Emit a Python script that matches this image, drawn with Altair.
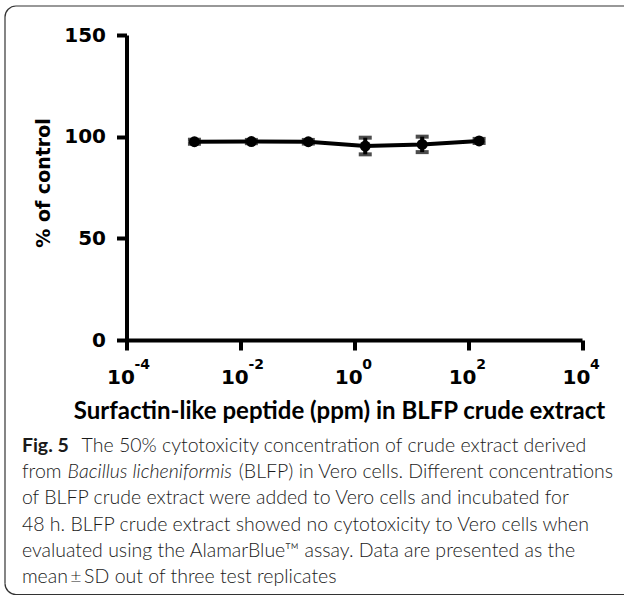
import math
import altair as alt
import pandas as pd

# ---- data ----
conc = [0.00156, 0.0156, 0.156, 1.56, 15.6, 156]
pct = [97.5, 97.6, 97.5, 95.4, 96.2, 97.9]
sd = [1.0, 0.8, 0.9, 4.1, 3.8, 1.0]

x_ticks = [1e-4, 1e-2, 1, 1e2, 1e4]
x_exponents = ["-4", "-2", "0", "2", "4"]
y_ticks = [0, 50, 100, 150]

y_title = "% of control"
x_title = "Surfactin-like peptide (ppm) in BLFP crude extract"

caption_lines = [
    [("Fig. 5", "bold"), ("The 50% cytotoxicity concentration of crude extract derived", "normal")],
    [("from", "normal"), ("Bacillus licheniformis", "italic"), ("(BLFP) in Vero cells. Different concentrations", "normal")],
    [("of BLFP crude extract were added to Vero cells and incubated for", "normal")],
    [("48 h. BLFP crude extract showed no cytotoxicity to Vero cells when", "normal")],
    [("evaluated using the AlamarBlue\u2122 assay. Data are presented as the", "normal")],
    [("mean\u2009\u00b1\u2009SD out of three test replicates", "normal")],
]

# ---- layout constants (pixels) ----
TOTAL_W, TOTAL_H = 624, 596
L, T = 126.5, 35.0
W, H = 455.5, 305.0
PAD = {"left": L, "top": T, "right": TOTAL_W - L - W, "bottom": TOTAL_H - T - H}

df = pd.DataFrame({"conc": conc, "pct": pct, "lo": [p - s for p, s in zip(pct, sd)],
                   "hi": [p + s for p, s in zip(pct, sd)]})

xscale = alt.Scale(type="log", domain=[1e-4, 1e4], nice=False)
yscale = alt.Scale(domain=[0, 150], nice=False)

AX_FONT = "DejaVu Sans"

xaxis = alt.Axis(values=x_ticks, labelExpr="'10'", labelFont=AX_FONT, labelFontWeight="bold",
                 labelFontSize=20, labelColor="black", labelBaseline="alphabetic",
                 labelPadding=33, labelOffset=-6, labelFlush=False, labelOverlap=False,
                 tickSize=10, tickWidth=4, tickColor="black", domainWidth=4, domainColor="black",
                 grid=False, title=x_title, titleFont="Lato", titleFontWeight="bold",
                 titleFontSize=24, titleColor="black", titleBaseline="alphabetic",
                 titleX=339 - L, titleY=418 - (T + H), titleAlign="center")
yaxis = alt.Axis(values=y_ticks, labelFont=AX_FONT, labelFontWeight="bold", labelFontSize=20,
                 labelColor="black", labelPadding=11, tickSize=10, tickWidth=4, tickColor="black",
                 domainWidth=4, domainColor="black", grid=False, title=y_title,
                 titleFont=AX_FONT, titleFontWeight="bold", titleFontSize=19, titleColor="black",
                 titleAngle=270, titleAlign="center", titleBaseline="middle",
                 titleX=43 - L, titleY=182.5 - T)

base = alt.Chart(df)
line = base.mark_line(color="black", strokeWidth=4).encode(
    x=alt.X("conc:Q", scale=xscale, axis=xaxis), y=alt.Y("pct:Q", scale=yscale, axis=yaxis))
rule = base.mark_rule(color="black", strokeWidth=4).encode(
    x=alt.X("conc:Q", scale=xscale), y=alt.Y("lo:Q", scale=yscale), y2="hi:Q")
cap_lo = base.mark_tick(color="black", size=13, thickness=4, orient="horizontal").encode(
    x=alt.X("conc:Q", scale=xscale), y=alt.Y("lo:Q", scale=yscale))
cap_hi = base.mark_tick(color="black", size=13, thickness=4, orient="horizontal").encode(
    x=alt.X("conc:Q", scale=xscale), y=alt.Y("hi:Q", scale=yscale))
pts = base.mark_circle(color="black", opacity=1, size=120).encode(
    x=alt.X("conc:Q", scale=xscale), y=alt.Y("pct:Q", scale=yscale))

exp_df = pd.DataFrame({"v": x_ticks, "e": x_exponents})
exps = alt.Chart(exp_df).mark_text(font=AX_FONT, fontWeight="bold", fontSize=14, color="black",
                                   align="left", baseline="alphabetic", dx=8).encode(
    x=alt.X("v:Q", scale=xscale), y=alt.value(369 - T), text="e:N")

# ---- frame (rounded box around figure + caption) ----
FC, FW, R = "#333333", 1.2, 11
FL, FT, FR, FB = 5, 6, 630, TOTAL_H - 1.5
one = pd.DataFrame({"a": [0]})
frame_layers = [
    alt.Chart(one).mark_rule(color=FC, strokeWidth=FW).encode(
        x=alt.value(FL - L), y=alt.value(FT + R - T), y2=alt.value(FB - R - T)),
    alt.Chart(one).mark_rule(color=FC, strokeWidth=FW).encode(
        x=alt.value(FL + R - L), x2=alt.value(FR - L), y=alt.value(FT - T)),
    alt.Chart(one).mark_rule(color=FC, strokeWidth=FW).encode(
        x=alt.value(FL + R - L), x2=alt.value(FR - L), y=alt.value(FB - T)),
]
corners = [  # (center x, center y, start angle, end angle)
    (FL + R, FT + R, 1.5 * math.pi, 2 * math.pi),
    (FL + R, FB - R, math.pi, 1.5 * math.pi),
]
for cx, cy, a0, a1 in corners:
    frame_layers.append(
        alt.Chart(one).mark_arc(fill=FC, stroke=None).encode(
            x=alt.value(cx - L), y=alt.value(cy - T), theta=alt.value(a0), theta2=alt.value(a1),
            radius=alt.value(R + FW / 2), radius2=alt.value(R - FW / 2)))

# caption
CAP_FONT = "Lato"
CAP_SIZE = 19.5
seg_x = [[21.9, 81.6], [21.9, 67.6, 238.8], [21.9], [21.9], [21.9], [21.9]]
base_y = [451.7, 478.0, 504.3, 530.6, 556.9, 583.2]
cap_layers = []
for li, segs in enumerate(caption_lines):
    for si, (s, style) in enumerate(segs):
        kw = dict(font=CAP_FONT, fontSize=CAP_SIZE, color="#1a1a1a", align="left",
                  baseline="alphabetic")
        if style == "bold":
            kw["fontWeight"] = "bold"
        else:
            kw["fontWeight"] = 300
        if style == "italic":
            kw["fontStyle"] = "italic"
        cap_layers.append(
            alt.Chart(pd.DataFrame({"t": [s]})).mark_text(**kw).encode(
                x=alt.value(seg_x[li][si] - L), y=alt.value(base_y[li] - T), text="t:N"))

chart = alt.layer(*frame_layers, line, rule, cap_lo, cap_hi, pts, exps, *cap_layers).properties(
    width=W, height=H, autosize=alt.AutoSizeParams(type="none"), padding=PAD,
    background="white").configure_view(stroke=None)

chart.save("out.html", embed_options={"renderer": "svg", "actions": False})
